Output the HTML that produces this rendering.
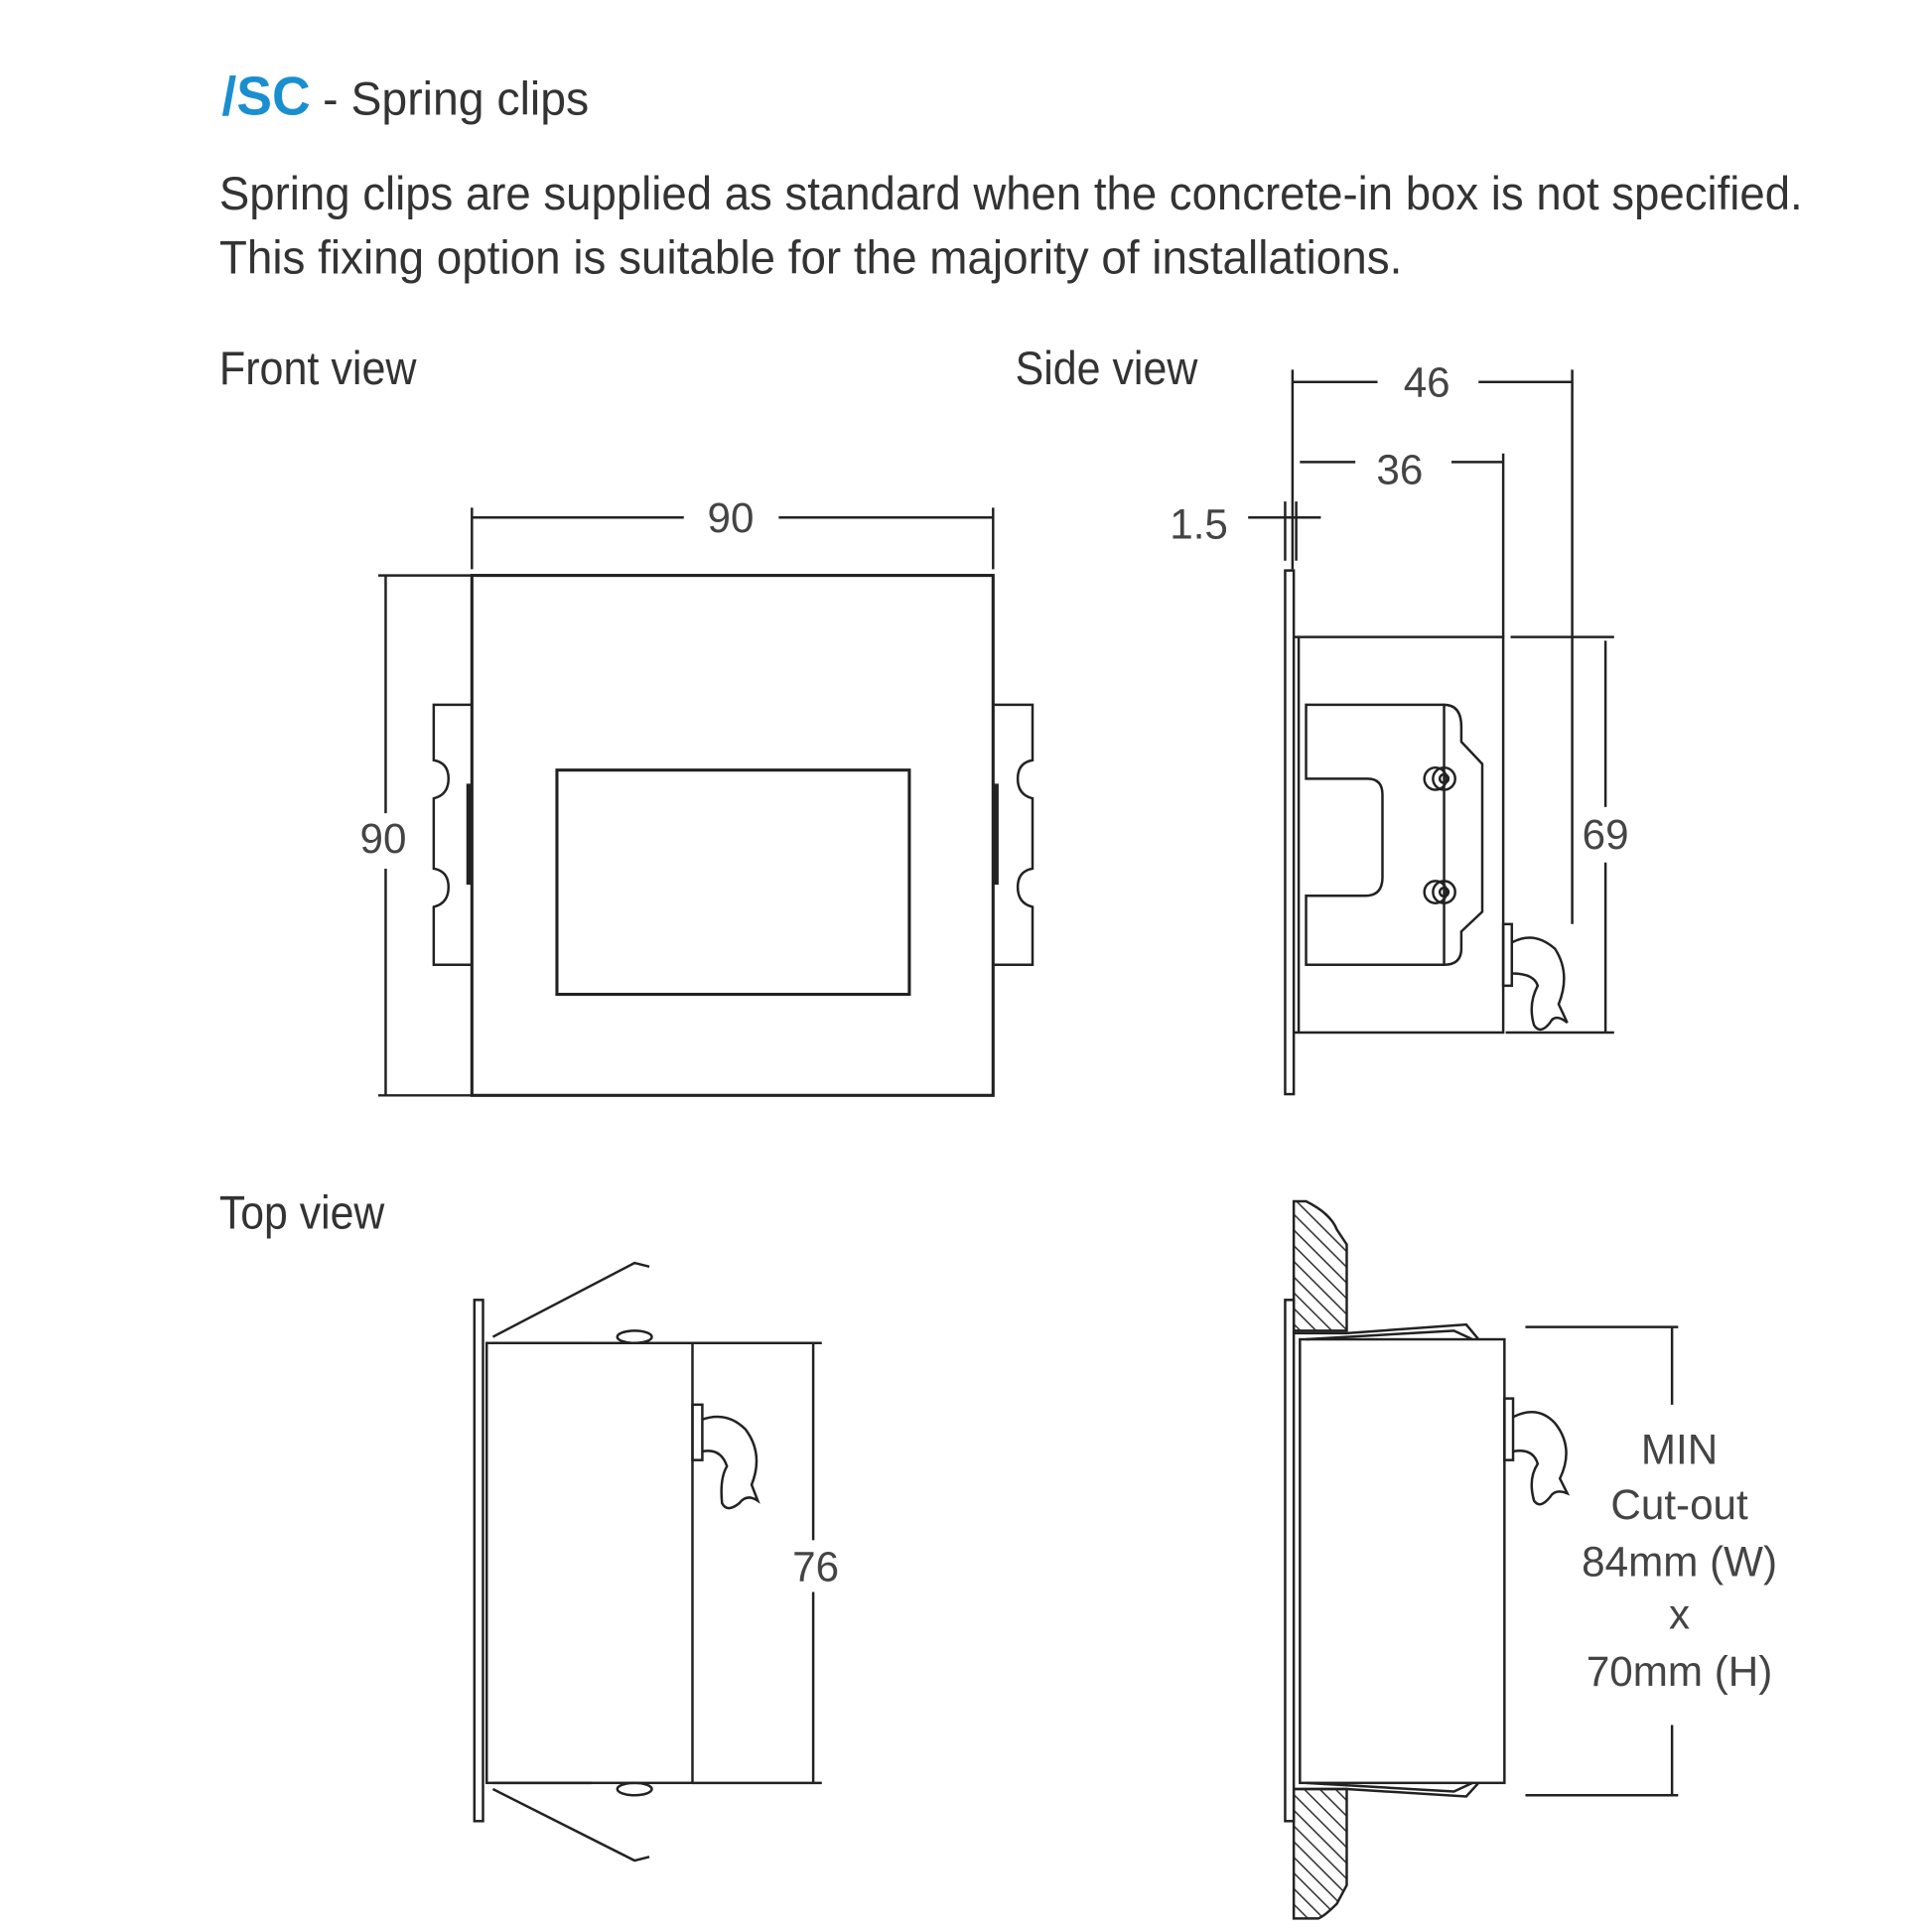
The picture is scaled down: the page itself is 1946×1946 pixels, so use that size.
<!DOCTYPE html>
<html><head><meta charset="utf-8"><style>html,body{margin:0;padding:0;background:#fff}svg{display:block}</style></head>
<body>
<svg width="1946" height="1946" viewBox="0 0 1568 1568" xmlns="http://www.w3.org/2000/svg">
<defs>
<pattern id="h" width="9" height="9" patternUnits="userSpaceOnUse" patternTransform="rotate(-45)">
<rect width="9" height="9" fill="#fff"/><line x1="0" y1="0" x2="0" y2="9" stroke="#333" stroke-width="2.5"/>
</pattern>
</defs>
<g font-family="Liberation Sans, Arial, sans-serif">
<text x="180" y="93" font-size="44" font-weight="bold" fill="#1a8fd0" textLength="72" lengthAdjust="spacingAndGlyphs">/SC</text>
<text x="262" y="93" font-size="38" fill="#333" textLength="216" lengthAdjust="spacingAndGlyphs">- Spring clips</text>
<text x="178" y="170" font-size="38" fill="#333" textLength="1285" lengthAdjust="spacingAndGlyphs">Spring clips are supplied as standard when the concrete-in box is not specified.</text>
<text x="178" y="222" font-size="38" fill="#333" textLength="960" lengthAdjust="spacingAndGlyphs">This fixing option is suitable for the majority of installations.</text>
<text x="178" y="312" font-size="38" fill="#333" textLength="160" lengthAdjust="spacingAndGlyphs">Front view</text>
<text x="824" y="312" font-size="38" fill="#333" textLength="148" lengthAdjust="spacingAndGlyphs">Side view</text>
<text x="178" y="997" font-size="38" fill="#333" textLength="134" lengthAdjust="spacingAndGlyphs">Top view</text>
<g font-size="34" fill="#444" text-anchor="middle">
<text x="593" y="432">90</text>
<text x="311" y="692">90</text>
<text x="1158" y="322">46</text>
<text x="1136" y="393">36</text>
<text x="973" y="437">1.5</text>
<text x="1303" y="689">69</text>
<text x="662" y="1283">76</text>
<text x="1363" y="1188">MIN</text>
<text x="1363" y="1233">Cut-out</text>
<text x="1363" y="1279">84mm (W)</text>
<text x="1363" y="1322">x</text>
<text x="1363" y="1368">70mm (H)</text>
</g>
</g>
<g fill="none" stroke="#222" stroke-width="2">
<rect x="383" y="467" width="423" height="422" stroke-width="2.5"/>
<rect x="452" y="625" width="286" height="182" stroke-width="2.5"/>
<path d="M383 412V462M806 412V462M383 420H555M632 420H806"/>
<path d="M307 467H383M307 889H383M313 467V660M313 705V889"/>
<path d="M383 572H352V617Q364 619 364 632Q364 645 352 648V705Q364 707 364 720Q364 733 352 736V783H383"/>
<path d="M806 572H838V617Q826 619 826 632Q826 645 838 648V705Q826 707 826 720Q826 733 838 736V783H806"/>
<path d="M381 636V718M808 636V718" stroke-width="5"/>
<rect x="1043" y="463" width="7" height="425"/>
<path d="M1050 517H1220V838H1050M1054 517V838"/>
<path d="M1049 300V462M1276 300V750M1049 310H1118M1200 310H1276"/>
<path d="M1055 375H1100M1178 375H1220M1220 368V517"/>
<path d="M1013 420H1072M1043 407V455M1052 407V455"/>
<path d="M1226 517H1310M1222 838H1310M1303 520V655M1303 700V838"/>
<path d="M1172 572H1060V632H1110Q1122 632 1122 645V712Q1122 727 1108 727H1060V783H1172"/>
<path d="M1172 572Q1186 572 1186 590V602L1203 620V740L1186 756V770Q1186 783 1172 783Z"/>
<circle cx="1172" cy="632" r="9"/><circle cx="1172" cy="632" r="3.5"/><circle cx="1165" cy="632" r="9"/>
<circle cx="1172" cy="724" r="9"/><circle cx="1172" cy="724" r="3.5"/><circle cx="1165" cy="724" r="9"/>
<rect x="1220" y="750" width="7" height="50"/>
<path d="M1227 765Q1245 755 1262 770Q1275 790 1265 815L1272 830Q1262 822 1258 830Q1250 840 1245 832Q1240 815 1248 800Q1245 790 1227 790"/>
<rect x="385" y="1055" width="7" height="423"/>
<rect x="395" y="1090" width="167" height="357"/>
<path d="M400 1085L515 1025L527 1028M400 1452L515 1510L527 1507"/>
<path d="M400 1090H480M400 1447H480"/>
<ellipse cx="515" cy="1085" rx="14" ry="5"/><ellipse cx="515" cy="1452" rx="14" ry="5"/>
<rect x="562" y="1140" width="8" height="45"/>
<path d="M570 1152Q590 1145 605 1160Q620 1180 610 1205L615 1218Q606 1212 600 1220Q590 1228 586 1220Q584 1200 590 1190Q585 1175 570 1178"/>
<path d="M562 1090H667M562 1447H667M660 1090V1250M660 1292V1447"/>
</g>
<path d="M1050 975L1060 975Q1080 985 1085 998L1093 1010V1080H1050Z" fill="url(#h)" stroke="#222" stroke-width="2"/>
<path d="M1050 1452H1093V1530L1085 1545Q1075 1555 1070 1557H1050Z" fill="url(#h)" stroke="#222" stroke-width="2"/>
<g fill="none" stroke="#222" stroke-width="2">
<rect x="1043" y="1055" width="7" height="423" fill="#fff"/>
<rect x="1055" y="1087" width="166" height="360" fill="#fff"/>
<path d="M1050 1082H1093L1190 1075L1200 1087M1060 1087L1180 1080L1195 1087"/>
<path d="M1050 1452H1093L1190 1458L1200 1447M1060 1447L1180 1454L1195 1447"/>
<rect x="1221" y="1135" width="7" height="50"/>
<path d="M1228 1150Q1248 1140 1262 1155Q1278 1175 1266 1200L1272 1212Q1262 1208 1258 1215Q1250 1225 1245 1218Q1240 1200 1248 1188Q1244 1175 1228 1178"/>
<path d="M1238 1077H1362M1238 1457H1362M1357 1077V1140M1357 1400V1457"/>
</g>
</svg>
</body></html>
